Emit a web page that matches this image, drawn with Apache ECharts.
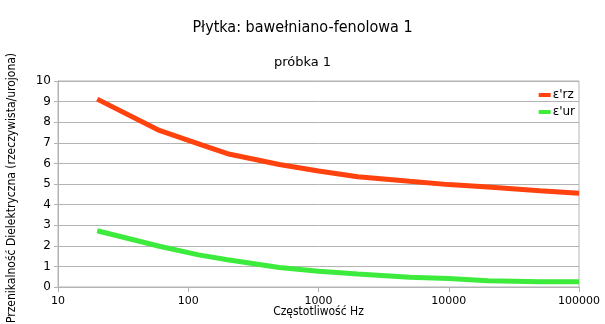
<!DOCTYPE html>
<html>
<head>
<meta charset="utf-8">
<script src="https://cdn.jsdelivr.net/npm/echarts@6/dist/echarts.min.js"></script>
<style>
html,body{margin:0;padding:0;background:#fff;}
#c{width:605px;height:324px;}
</style>
</head>
<body>
<div id="c"></div>
<script>
var titleText = 'Płytka: bawełniano-fenolowa 1';
var subtitleText = 'próbka 1';
var xAxisName = 'Częstotliwość Hz';
var yAxisName = 'Przenikalność Dielektryczna (rzeczywista/urojona)';
var seriesNames = ["ε'rz", "ε'ur"];
var freq = [20, 60, 120, 200, 500, 1000, 2000, 5000, 10000, 20000, 50000, 100000];
var erz = [9.12, 7.6, 6.95, 6.47, 5.95, 5.63, 5.35, 5.13, 4.97, 4.86, 4.67, 4.55];
var eur = [2.73, 1.98, 1.56, 1.32, 0.95, 0.77, 0.63, 0.47, 0.41, 0.30, 0.25, 0.25];
var colors = ['#ff420e', '#3deb3d'];

function pairs(vals){ return freq.map(function(f,i){ return [f, vals[i]]; }); }

var FONT = 'DejaVu Sans';
var COND = '"DejaVu Sans Condensed", DejaVu Sans';
var chart = echarts.init(document.getElementById('c'), null, {renderer:'canvas'});
chart.setOption({
  animation: false,
  backgroundColor: '#ffffff',
  title: [
    {text: titleText, left: 'center', top: 15, textStyle: {fontFamily: COND, fontSize: 16, fontWeight: 'normal', color: '#000'}},
    {text: subtitleText, left: 'center', top: 51, textStyle: {fontFamily: FONT, fontSize: 13, fontWeight: 'normal', color: '#000'}}
  ],
  legend: {
    orient: 'vertical', right: 25, top: 84, itemGap: 5,
    itemWidth: 12, itemHeight: 4, icon: 'rect',
    textStyle: {fontFamily: FONT, fontSize: 12, color: '#000', padding: [0,0,0,-3]},
    data: seriesNames
  },
  grid: {left: 58, right: 26, top: 81, bottom: 37, show: true, borderColor: '#b3b3b3', borderWidth: 1, containLabel: false, outerBoundsMode: 'none'},
  xAxis: {
    type: 'log', logBase: 10, min: 10, max: 100000,
    name: xAxisName, nameLocation: 'middle', nameGap: 19, nameMoveOverlap: false,
    nameTextStyle: {fontFamily: COND, fontSize: 12, color: '#000'},
    axisLine: {lineStyle: {color: '#b3b3b3'}},
    axisTick: {show: true, length: 5, lineStyle: {color: '#b3b3b3'}},
    minorTick: {show: false},
    splitLine: {show: false},
    axisLabel: {fontFamily: FONT, fontSize: 11, color: '#000', margin: 9, formatter: function(v){ return String(Math.round(v)); }}
  },
  yAxis: {
    type: 'value', min: 0, max: 10, interval: 1,
    name: yAxisName, nameLocation: 'middle', nameGap: 40, nameMoveOverlap: false,
    nameTextStyle: {fontFamily: COND, fontSize: 12, color: '#000', padding: [0,8,0,0]},
    axisLine: {show: true, lineStyle: {color: '#b3b3b3'}},
    axisTick: {show: true, length: 4, lineStyle: {color: '#b3b3b3'}},
    splitLine: {show: true, lineStyle: {color: '#b3b3b3'}},
    axisLabel: {fontFamily: FONT, fontSize: 12, color: '#000', margin: 7}
  },
  series: [
    {name: seriesNames[0], type: 'line', data: pairs(erz), showSymbol: false, symbol: 'none', lineStyle: {width: 5, color: colors[0]}, itemStyle: {color: colors[0]}},
    {name: seriesNames[1], type: 'line', data: pairs(eur), showSymbol: false, symbol: 'none', lineStyle: {width: 5, color: colors[1]}, itemStyle: {color: colors[1]}}
  ]
});
</script>
</body>
</html>
